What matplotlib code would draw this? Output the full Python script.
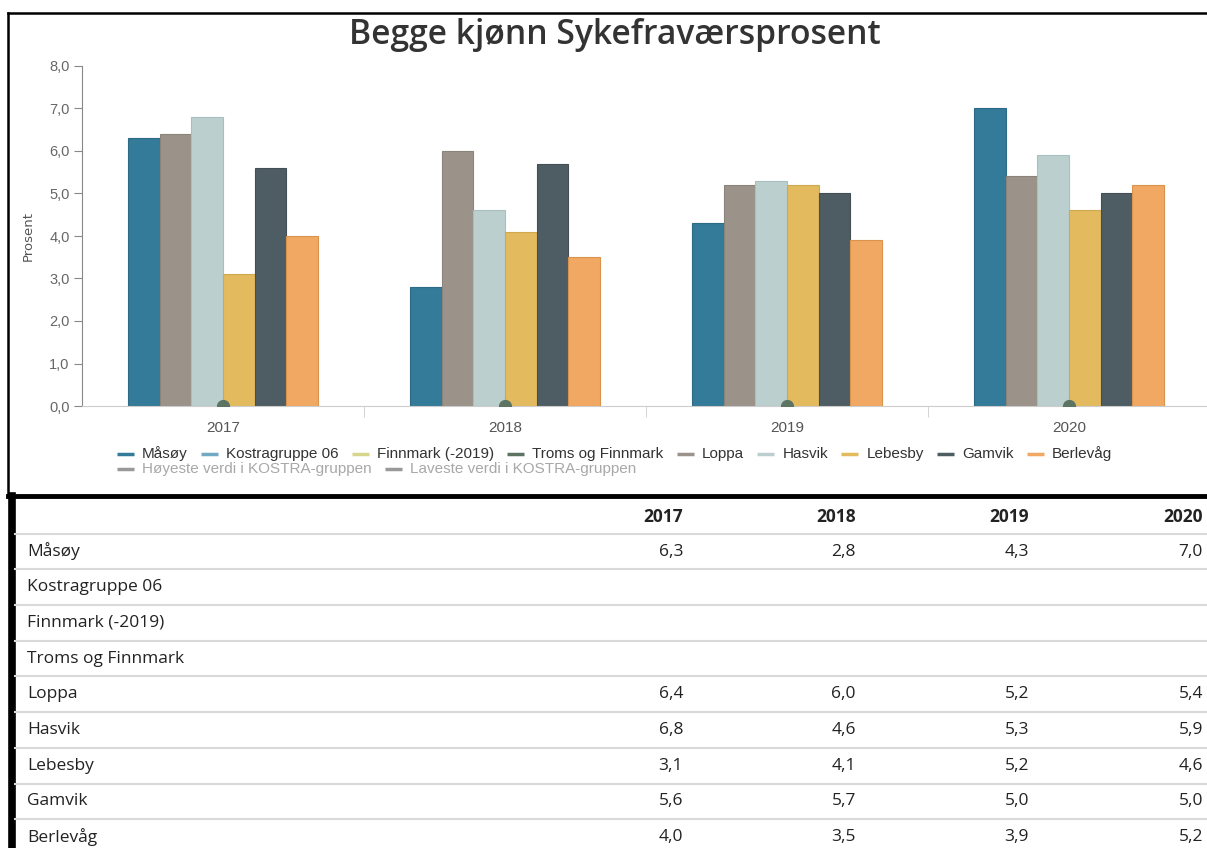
import matplotlib
matplotlib.use("Agg")
import matplotlib.pyplot as plt
import numpy as np

# data
years = ["2017", "2018", "2019", "2020"]
maasoy = [6.3, 2.8, 4.3, 7.0]
loppa = [6.4, 6.0, 5.2, 5.4]
hasvik = [6.8, 4.6, 5.3, 5.9]
lebesby = [3.1, 4.1, 5.2, 4.6]
gamvik = [5.6, 5.7, 5.0, 5.0]
berlevaag = [4.0, 3.5, 3.9, 5.2]
marker_vals = [0, 0, 0, 0]
y_ticks = [0, 1, 2, 3, 4, 5, 6, 7, 8]

bar_names = ["Måsøy", "Loppa", "Hasvik", "Lebesby", "Gamvik", "Berlevåg"]
bar_data = [maasoy, loppa, hasvik, lebesby, gamvik, berlevaag]
bar_colors = ["#347a99", "#9b9389", "#bccfcf", "#e3bb5e", "#4e5d63", "#f0a862"]
bar_edges = ["#2c6a86", "#8a8379", "#a9bebe", "#cfa84f", "#434f55", "#d8944f"]

legend_row1 = ["Måsøy", "Kostragruppe 06", "Finnmark (-2019)", "Troms og Finnmark",
               "Loppa", "Hasvik", "Lebesby", "Gamvik", "Berlevåg"]
legend_col1 = ["#347a99", "#6fa9c2", "#d8d68c", "#5e7463", "#9b9389",
               "#bccfcf", "#e3bb5e", "#4e5d63", "#f0a862"]
legend_row2 = ["Høyeste verdi i KOSTRA-gruppen", "Laveste verdi i KOSTRA-gruppen"]

table_rows = ["Måsøy", "Kostragruppe 06", "Finnmark (-2019)", "Troms og Finnmark",
              "Loppa", "Hasvik", "Lebesby", "Gamvik", "Berlevåg"]
table_vals = [maasoy, None, None, None, loppa, hasvik, lebesby, gamvik, berlevaag]

W, H = 1207, 848
fig = plt.figure(figsize=(W / 100, H / 100), dpi=100)

# overlay in pixel coordinates for frame, legend and table
ov = fig.add_axes([0, 0, 1, 1])
ov.set_xlim(0, W)
ov.set_ylim(H, 0)
ov.axis("off")

# chart frame
ov.plot([8, 8], [13, 496], color="black", lw=1.8)
ov.plot([8, W], [13, 13], color="black", lw=1.8)
ov.plot([8, W], [496, 496], color="black", lw=3.5)
ov.plot([11.5, 11.5], [496, H], color="black", lw=5.5)

# main plot
ax = fig.add_axes([82 / W, (H - 406) / H, 1128 / W, 340 / H])
x = np.arange(len(years))
bw = 0.1124
for i, (name, vals) in enumerate(zip(bar_names, bar_data)):
    ax.bar(x + (i - 2.5) * bw, vals, width=bw, color=bar_colors[i],
           edgecolor=bar_edges[i], linewidth=0.8, zorder=2)
ax.plot(x, marker_vals, "o", color="#5e7463", markersize=8.5, zorder=3, clip_on=True)

ax.set_xlim(-0.5, 3.5)
ax.set_ylim(0, 8)
ax.set_yticks(y_ticks)
ax.set_yticklabels([f"{t:.1f}".replace(".", ",") for t in y_ticks],
                   fontsize=10.5, color="#666666", family="Liberation Sans")
ax.set_xticks(x)
ax.set_xticklabels(years, fontsize=11, color="#555555", family="Liberation Sans")
ax.set_xticks(np.arange(0.5, 3.5, 1), minor=True)
ax.tick_params(axis="x", which="major", length=0, pad=11)
ax.tick_params(axis="x", which="minor", length=8, color="#cccccc", direction="out")
ax.tick_params(axis="y", length=6, color="#888888", direction="out", pad=3)
for s in ["top", "right"]:
    ax.spines[s].set_visible(False)
ax.spines["left"].set_color("#888888")
ax.spines["bottom"].set_color("#cccccc")
ax.set_ylabel("Prosent", fontsize=9.5, color="#555555", family="Liberation Sans Narrow", labelpad=10)

fig.text(615 / W, 1 - 35 / H, "Begge kjønn Sykefraværsprosent", ha="center", va="center",
         fontsize=24.2, color="#333333", family="Open Sans", weight="semibold")

# legend, laid out manually like the source chart
fig.canvas.draw()
rend = fig.canvas.get_renderer()
lfs = 11


def text_w(s):
    t = ov.text(0, 0, s, fontsize=lfs, family="Liberation Sans")
    w = t.get_window_extent(rend).width
    t.remove()
    return w


sym, gap = 17, 8
left, right = 117, 1112
widths = [sym + gap + text_w(s) for s in legend_row1]
spacing = (right - left - sum(widths)) / (len(widths) - 1)
xp = left
for name, col, w in zip(legend_row1, legend_col1, widths):
    ov.plot([xp, xp + sym], [454, 454], color=col, lw=2.5, solid_capstyle="butt")
    ov.text(xp + sym + gap, 454, name, fontsize=lfs, family="Liberation Sans",
            color="#333333", va="center")
    xp += w + spacing
xp = left
for name in legend_row2:
    ov.plot([xp, xp + sym], [469, 469], color="#999999", lw=2.5, solid_capstyle="butt")
    ov.text(xp + sym + gap, 469, name, fontsize=lfs, family="Liberation Sans",
            color="#a8a8a8", va="center")
    xp += sym + gap + text_w(name) + spacing

# table
tfs = 12.5
col_right = [683, 856, 1029, 1203]
for xr, yr in zip(col_right, years):
    ov.text(xr, 517, yr, ha="right", va="center", fontsize=tfs, family="Open Sans",
            weight="bold", color="#222222")
row_y0, row_h = 551.5, 35.7
for k in range(len(table_rows) + 1):
    yl = row_y0 - row_h / 2 + k * row_h
    ov.plot([15, W], [yl, yl], color="#d9d9d9", lw=1.5)
for k, (name, vals) in enumerate(zip(table_rows, table_vals)):
    yy = row_y0 + k * row_h
    ov.text(27, yy, name, va="center", fontsize=tfs, family="Open Sans", color="#222222")
    if vals is not None:
        for xr, v in zip(col_right, vals):
            ov.text(xr, yy, f"{v:.1f}".replace(".", ","), ha="right", va="center",
                    fontsize=tfs, family="Open Sans", color="#222222")

fig.savefig("out.png", dpi=100)
